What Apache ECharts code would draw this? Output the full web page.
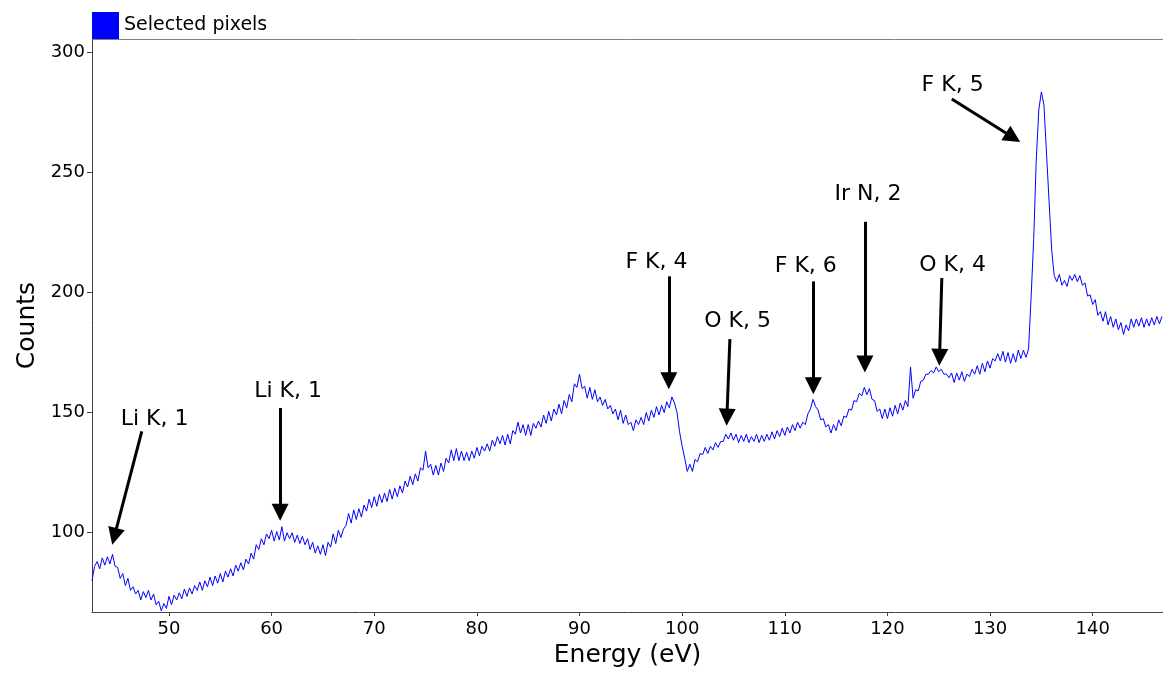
<!DOCTYPE html>
<html>
<head>
<meta charset="utf-8">
<script src="https://cdn.jsdelivr.net/npm/echarts@6/dist/echarts.min.js"></script>
<style>
  html, body { margin: 0; padding: 0; background: #fff; }
  #chart { width: 1163px; height: 677px; }
</style>
</head>
<body>
<div id="chart"></div>
<script>
// spectrum: energy starts at 42.5 eV, one value every 0.25 eV
const energyStart = 42.5;
const energyStep = 0.25;
const counts = [
  80, 86,
  88, 85, 89.5, 86.5,   90, 87, 91, 86,   85.5, 81, 83, 78,   81, 76, 77.5, 74.5,
  76, 72, 75.5, 73,   76, 72, 74.5, 70,   71.5, 67.5, 70.5, 68.5,   73.5, 70, 74, 72,
  75, 72.5, 76.5, 73.5,   77, 74.5, 78, 76,   79.5, 76, 80, 77.5,   81.5, 78, 82, 79,
  83, 79.5, 84, 81.5,   85, 82, 86.5, 84,   87.5, 84.5, 89, 87,   91.5, 89, 95, 93,
  97.5, 95, 99.5, 97.5,   101, 96.5, 100.5, 97,   102.5, 96.5, 100, 97.5,   100, 96, 99, 95.5,
  98.5, 95, 97.5, 93,   96, 91.5, 94.5, 91,   95, 90.5, 96, 94,   99.5, 95.5, 101, 98,
  101.5, 103, 108, 104,   109.5, 105.5, 110, 106.5,   111.5, 109, 114, 110.5,   115, 111, 116, 112.5,
  116.5, 113, 118, 114,   118.5, 115, 119.5, 116.5,   121.5, 119, 123.5, 120,   124.5, 121.5, 127, 126,
  134, 127, 128.5, 124,   128, 124, 129, 125.5,   131, 129, 134.5, 130,   135, 130, 134, 130,
  133.5, 130, 134, 131,   135.5, 132, 136, 134,   137, 134, 138.5, 136,   140, 137, 140.5, 136.5,
  141, 137, 142.5, 141,   146, 141.5, 145, 140.5,   145, 140.5, 145.5, 143.5,   146.5, 144, 149, 145.5,
  150.5, 146.5, 151.5, 149,   153.5, 149.5, 155, 152,   157.5, 154.5, 162, 160.5,   166, 160, 161, 156,
  160.5, 155.5, 159.5, 154.5,   156.5, 153, 155.5, 151.5,   153, 149.5, 151.5, 147,   151, 145.5, 149, 145,
  146, 142.5, 147, 145,   148, 145, 150, 146.5,   151, 148, 152.5, 149,   153, 150, 154.5, 152,
  156.5, 154, 150, 142,   136, 131, 125.5, 128.5,   125.5, 130.5, 129.5, 133,   132.5, 135.5, 133, 136,
  134.5, 137.5, 135.5, 138,   138, 141, 139, 141.5,   138.5, 141, 137.5, 140.5,   138, 141, 137.5, 140,
  138, 141, 137.5, 140.5,   138, 141, 138.5, 142,   139, 142.5, 140, 143.5,   140.5, 144, 141.5, 145,
  142.5, 146, 143.5, 146,   145, 149.5, 151.5, 155.5,   152.5, 151, 147, 147.5,   144, 145, 141.5, 145,
  142.5, 147, 144.5, 148.5,   148, 151.5, 151, 155,   154.5, 158, 157, 160.5,   157.5, 160, 155.5, 155,
  150.5, 151.5, 147.5, 151.5,   147.5, 152, 148.5, 153,   149.5, 154, 151, 155,   152.5, 169, 156, 159.5,
  159, 163, 163.5, 166,   166, 167.5, 166.5, 169,   167, 168, 166, 166,   164.5, 166.5, 162.5, 166.5,
  163.5, 167, 163, 166,   165, 168, 166, 169.5,   166, 170.5, 167, 171.5,   168.5, 172.5, 171.5, 174.5,
  171.5, 175.5, 171, 175,   170.5, 174.5, 171, 176,   172.5, 176, 173, 176.5,   198, 222, 255, 276,
  283.5, 278, 258, 238,   218, 207, 204.5, 207.5,   203, 205, 202.5, 207,   205, 207.5, 204.5, 207,
  203, 204, 198.5, 199,   195, 197, 190.5, 192,   188, 192, 186.5, 190,   185.5, 189, 184.5, 187.5,
  182.5, 186.5, 184, 189,   185.5, 189, 186, 189.5,   185.5, 189, 186, 189.5,   186.5, 190, 187, 190
];

const xTicks = [50, 60, 70, 80, 90, 100, 110, 120, 130, 140];
const yTicks = [100, 150, 200, 250, 300];

// peak annotations: label text, label centre, arrow start, arrow head
const annotLabels = ['Li K, 1', 'Li K, 1', 'F K, 4', 'O K, 5', 'F K, 6', 'Ir N, 2', 'O K, 4', 'F K, 5'];
const labelPos = [[48.6, 147.2], [61.6, 158.8], [97.5, 212.4], [105.4, 187.8], [112.05, 211.1], [118.1, 240.7], [126.35, 211.4], [126.35, 286.3]];
const arrowFrom = [[47.35, 142.2], [60.83, 151.9], [98.7, 206.7], [104.65, 180.6], [112.78, 204.6], [117.8, 229.4], [125.3, 206], [126.27, 280.5]];
const arrowTo = [[44.68, 98.45], [60.83, 108.5], [98.7, 163.3], [104.36, 148.1], [112.78, 161.2], [117.8, 170.2], [125.08, 173], [132.24, 264.5]];

const FONT = 'DejaVu Sans';
const points = counts.map((c, i) => [energyStart + i * energyStep, c]);

const chart = echarts.init(document.getElementById('chart'));
chart.setOption({
  animation: false,
  textStyle: { fontFamily: FONT },
  legend: {
    data: ['Selected pixels'],
    left: 92, top: 12, padding: 0,
    icon: 'rect', itemWidth: 27, itemHeight: 27, itemGap: 5,
    textStyle: { fontSize: 19, color: '#000', fontFamily: FONT },
    selectedMode: false
  },
  grid: { left: 92, right: 0, top: 39, bottom: 65 },
  xAxis: [{
    type: 'value', min: 42.5, max: 146.85,
    name: 'Energy (eV)', nameLocation: 'middle', nameGap: 31,
    nameTextStyle: { fontSize: 25, color: '#000', fontFamily: FONT },
    axisLine: { lineStyle: { color: '#444', width: 1 } },
    axisTick: { customValues: xTicks, length: 4, lineStyle: { color: '#444' } },
    axisLabel: { customValues: xTicks, fontSize: 18, color: '#000', margin: 8, fontFamily: FONT },
    splitLine: { show: false }
  }, {
    type: 'value', min: 42.5, max: 146.85, position: 'top',
    axisLine: { show: true, lineStyle: { color: '#808080', width: 1 } },
    axisTick: { show: false }, axisLabel: { show: false }, splitLine: { show: false }
  }],
  yAxis: {
    type: 'value', min: 67, max: 305.5,
    name: 'Counts', nameLocation: 'middle', nameGap: 52,
    nameTextStyle: { fontSize: 25, color: '#000', fontFamily: FONT },
    axisLine: { show: true, lineStyle: { color: '#444', width: 1 } },
    axisTick: { show: true, customValues: yTicks, length: 5, lineStyle: { color: '#444' } },
    axisLabel: { customValues: yTicks, fontSize: 18, color: '#000', margin: 7, fontFamily: FONT },
    splitLine: { show: false }
  },
  series: [{
    name: 'Selected pixels',
    type: 'line',
    data: points,
    showSymbol: false,
    color: '#0000ff',
    lineStyle: { color: '#0000ff', width: 1 },
    silent: true,
    markLine: {
      silent: true,
      symbol: ['none', 'triangle'],
      symbolSize: 17,
      label: { show: false },
      lineStyle: { color: '#000', width: 3, type: 'solid' },
      itemStyle: { color: '#000' },
      emphasis: { disabled: true },
      data: arrowFrom.map((p, i) => [{ coord: p }, { coord: arrowTo[i] }])
    },
    markPoint: {
      silent: true,
      symbol: 'circle',
      symbolSize: 0,
      label: {
        show: true, position: 'inside', formatter: '{b}',
        fontSize: 22, color: '#000', fontFamily: FONT
      },
      data: annotLabels.map((t, i) => ({ name: t, coord: labelPos[i] }))
    }
  }]
});
</script>
</body>
</html>
